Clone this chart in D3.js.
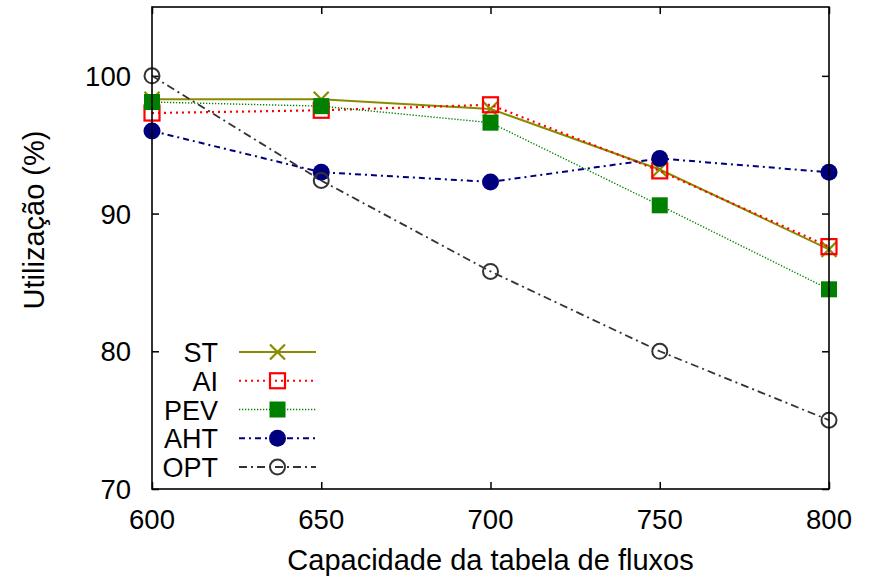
<!DOCTYPE html>
<html>
<head>
<meta charset="utf-8">
<script src="https://cdn.jsdelivr.net/npm/d3@7"></script>
<style>
  html, body { margin: 0; padding: 0; background: #fff; }
  svg { display: block; font-family: "Liberation Sans", Arial, Helvetica, sans-serif; }
</style>
</head>
<body>
<svg id="chart" width="871" height="578"></svg>
<script>
// Flow-table capacity on the x axis, utilisation (%) per scheme
const capacities = [600, 650, 700, 750, 800];
const seriesNames = ["ST", "AI", "PEV", "AHT", "OPT"];
const valuesST  = [98.3, 98.3, 97.6, 93.2, 87.4];
const valuesAI  = [97.3, 97.5, 97.9, 93.1, 87.6];
const valuesPEV = [98.1, 97.8, 96.6, 90.6, 84.5];
const valuesAHT = [96.0, 93.0, 92.3, 94.0, 93.0];
const valuesOPT = [100.0, 92.4, 85.8, 80.0, 75.0];
const xTicks = [600, 650, 700, 750, 800];
const yTicks = [70, 80, 90, 100];

const styles = {
  ST:  { color: "#8b8b00", dash: null,        width: 2,   marker: "cross" },
  AI:  { color: "#ff0000", dash: "2,4",       width: 2.2, marker: "openSquare" },
  PEV: { color: "#008000", dash: "1.3,1.7",   width: 1.4, marker: "square" },
  AHT: { color: "#00007f", dash: "6,4,2,4",   width: 2,   marker: "circle" },
  OPT: { color: "#333333", dash: "8,4,2,4",   width: 1.8, marker: "openCircle" }
};
const seriesValues = { ST: valuesST, AI: valuesAI, PEV: valuesPEV, AHT: valuesAHT, OPT: valuesOPT };

const svg = d3.select("#chart");
const plot = { left: 152, right: 829, top: 7, bottom: 489 };

const x = d3.scaleLinear().domain([600, 800]).range([plot.left, plot.right]);
const y = d3.scaleLinear().domain([70, 105]).range([plot.bottom, plot.top]);

// Inward ticks on all four sides
const tickLen = 7;
const axisBottom = d3.axisBottom(x).tickValues(xTicks).tickSize(-tickLen).tickFormat("");
const axisTop = d3.axisTop(x).tickValues(xTicks).tickSize(-tickLen).tickFormat("");
const axisLeft = d3.axisLeft(y).tickValues(yTicks).tickSize(-tickLen).tickFormat("");
const axisRight = d3.axisRight(y).tickValues(yTicks).tickSize(-tickLen).tickFormat("");

function styleAxis(g) {
  g.select(".domain").remove();
  g.selectAll(".tick line").attr("stroke", "#000").attr("stroke-width", 1.5);
}
svg.append("g").attr("transform", `translate(0,${plot.bottom})`).call(axisBottom).call(styleAxis);
svg.append("g").attr("transform", `translate(0,${plot.top})`).call(axisTop).call(styleAxis);
svg.append("g").attr("transform", `translate(${plot.left},0)`).call(axisLeft).call(styleAxis);
svg.append("g").attr("transform", `translate(${plot.right},0)`).call(axisRight).call(styleAxis);

// Tick labels
svg.append("g").selectAll("text").data(xTicks).join("text")
  .attr("x", d => x(d)).attr("y", 529)
  .attr("text-anchor", "middle").attr("font-size", 27.5).attr("fill", "#000")
  .text(d => d);
svg.append("g").selectAll("text").data(yTicks).join("text")
  .attr("x", 131).attr("y", d => y(d) + 10)
  .attr("text-anchor", "end").attr("font-size", 27.5).attr("fill", "#000")
  .text(d => d);

// Axis titles
svg.append("text").attr("x", (plot.left + plot.right) / 2).attr("y", 570)
  .attr("text-anchor", "middle").attr("font-size", 29).attr("fill", "#000")
  .text("Capacidade da tabela de fluxos");
svg.append("text").attr("transform", "translate(44,220) rotate(-90)")
  .attr("text-anchor", "middle").attr("font-size", 29).attr("fill", "#000")
  .text("Utilização (%)");

// Marker drawing
function drawMarker(g, type, color, cx, cy) {
  if (type === "cross") {
    const s = 7.5;
    g.append("path").attr("d", `M${cx - s},${cy - s}L${cx + s},${cy + s}M${cx - s},${cy + s}L${cx + s},${cy - s}`)
      .attr("stroke", color).attr("stroke-width", 2.2).attr("fill", "none");
  } else if (type === "openSquare") {
    const s = 7.5;
    g.append("rect").attr("x", cx - s).attr("y", cy - s).attr("width", 2 * s).attr("height", 2 * s)
      .attr("fill", "none").attr("stroke", color).attr("stroke-width", 2.2);
  } else if (type === "square") {
    const s = 8;
    g.append("rect").attr("x", cx - s).attr("y", cy - s).attr("width", 2 * s).attr("height", 2 * s)
      .attr("fill", color);
  } else if (type === "circle") {
    g.append("circle").attr("cx", cx).attr("cy", cy).attr("r", 8.5).attr("fill", color);
  } else if (type === "openCircle") {
    g.append("circle").attr("cx", cx).attr("cy", cy).attr("r", 7.5)
      .attr("fill", "none").attr("stroke", color).attr("stroke-width", 2);
  }
}

const line = d3.line().x((d, i) => x(capacities[i])).y(d => y(d));

// Series: line then points, drawn in legend order
seriesNames.forEach(name => {
  const st = styles[name];
  const g = svg.append("g");
  g.append("path").datum(seriesValues[name]).attr("d", line)
    .attr("fill", "none").attr("stroke", st.color).attr("stroke-width", st.width)
    .attr("stroke-dasharray", st.dash);
  seriesValues[name].forEach((v, i) => drawMarker(g, st.marker, st.color, x(capacities[i]), y(v)));
});

// Legend
const legend = svg.append("g");
const legendRowY = d3.scalePoint().domain(seriesNames).range([352, 467]);
seriesNames.forEach(name => {
  const st = styles[name];
  const ry = legendRowY(name);
  legend.append("text").attr("x", 218).attr("y", ry + 10)
    .attr("text-anchor", "end").attr("font-size", 27).attr("fill", "#000").text(name);
  legend.append("line").attr("x1", 239).attr("x2", 316).attr("y1", ry).attr("y2", ry)
    .attr("stroke", st.color).attr("stroke-width", st.width).attr("stroke-dasharray", st.dash);
  drawMarker(legend, st.marker, st.color, 277.5, ry);
});

// Frame
svg.append("rect").attr("x", plot.left).attr("y", plot.top)
  .attr("width", plot.right - plot.left).attr("height", plot.bottom - plot.top)
  .attr("fill", "none").attr("stroke", "#000").attr("stroke-width", 1.6);
</script>
</body>
</html>
